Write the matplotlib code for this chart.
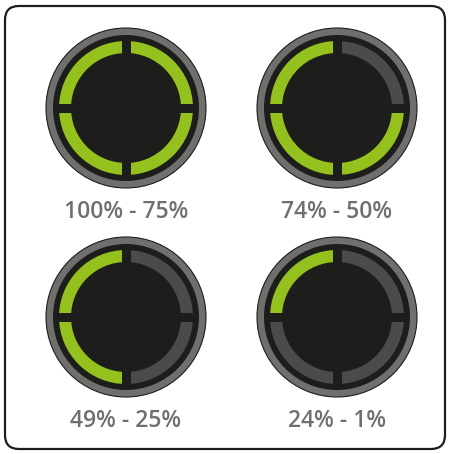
import matplotlib
matplotlib.use("Agg")
from matplotlib import pyplot as plt
from matplotlib.patches import Circle, Wedge, Rectangle, FancyBboxPatch

# battery levels shown by each gauge
labels = ['100% - 75%', '74% - 50%', '49% - 25%', '24% - 1%']
lit_segments = [4, 3, 2, 1]   # green quadrants, counted anticlockwise from top
centers = [(126, 108), (337, 108), (126, 317), (337, 317)]

green = '#95c11f'
off_grey = '#4b4b4a'
ring_grey = '#6f6f6e'
dark = '#1d1d1b'
text_grey = '#6f6f6e'

fig = plt.figure(figsize=(4.5, 4.54), dpi=100)
ax = fig.add_axes([0, 0, 1, 1])
ax.set_xlim(0, 450)
ax.set_ylim(454, 0)
ax.set_aspect('equal')
ax.axis('off')

# outer frame
frame = FancyBboxPatch((5, 6), 440, 443, boxstyle='round,pad=0,rounding_size=14',
                       facecolor='white', edgecolor='#1d1d1b', linewidth=1.6)
ax.add_patch(frame)

# quadrants on screen (y axis inverted): TL, BL, BR, TR
quadrants = [(180, 270), (90, 180), (0, 90), (270, 360)]

for (cx, cy), n, lab in zip(centers, lit_segments, labels):
    ax.add_patch(Circle((cx, cy), 80, facecolor=ring_grey, edgecolor='#1d1d1b', linewidth=0.8))
    ax.add_patch(Circle((cx, cy), 73, facecolor=dark, edgecolor='none'))
    for i, (t1, t2) in enumerate(quadrants):
        col = green if i < n else off_grey
        ax.add_patch(Wedge((cx, cy), 67, t1, t2, width=12, facecolor=col, edgecolor='none'))
    # gaps between segments
    ax.add_patch(Rectangle((cx - 4.5, cy - 72), 9, 144, facecolor=dark, edgecolor='none'))
    ax.add_patch(Rectangle((cx - 72, cy - 4.5), 144, 9, facecolor=dark, edgecolor='none'))
    ax.text(cx, cy + 104, lab, ha='center', va='center', fontsize=16.5,
            fontweight='semibold', color=text_grey, family='Open Sans')

fig.savefig('out.png', dpi=100)
